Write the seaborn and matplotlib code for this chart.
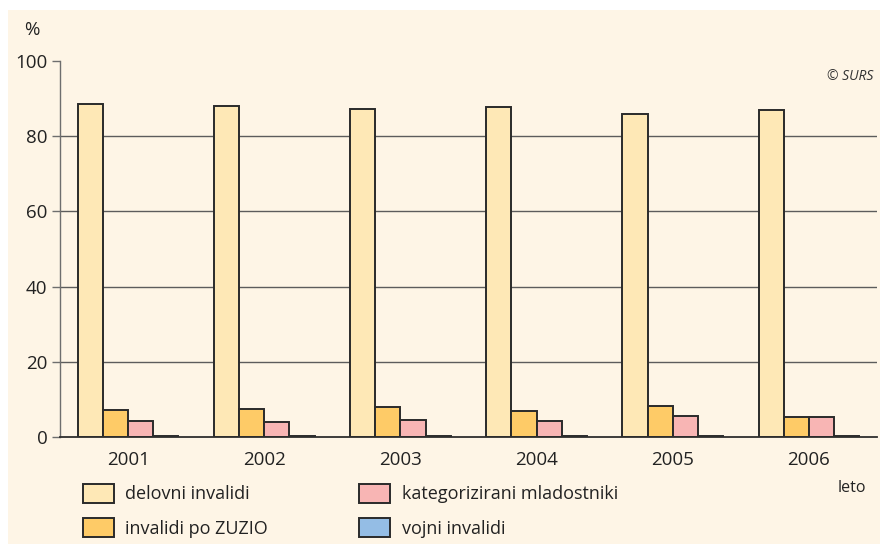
import matplotlib
matplotlib.use("Agg")
import matplotlib.pyplot as plt
import seaborn as sns
import pandas as pd
from matplotlib.patches import Rectangle

# Shares of disabled persons by category, per year (%)
leta = ["2001", "2002", "2003", "2004", "2005", "2006"]
kategorije = ["delovni invalidi", "invalidi po ZUZIO",
              "kategorizirani mladostniki", "vojni invalidi"]
delovni_invalidi = [88.5, 88.0, 87.2, 87.8, 85.9, 87.0]
invalidi_po_zuzio = [7.2, 7.5, 8.1, 7.0, 8.3, 5.4]
kategorizirani_mladostniki = [4.2, 3.9, 4.5, 4.3, 5.7, 5.4]
vojni_invalidi = [0.2, 0.2, 0.2, 0.2, 0.2, 0.2]
y_ticks = [0, 20, 40, 60, 80, 100]

barve = {
    "delovni invalidi": "#FEE8B6",
    "invalidi po ZUZIO": "#FECB67",
    "kategorizirani mladostniki": "#F8B5B4",
    "vojni invalidi": "#94BDE5",
}

vrednosti = [delovni_invalidi, invalidi_po_zuzio,
             kategorizirani_mladostniki, vojni_invalidi]
df = pd.DataFrame(
    [(leto, kat, vals[i]) for kat, vals in zip(kategorije, vrednosti)
     for i, leto in enumerate(leta)],
    columns=["leto", "kategorija", "delez"],
)

sns.set_theme(style="white")
plt.rcParams["font.family"] = ["Open Sans", "DejaVu Sans"]

W, H = 880, 544
fig = plt.figure(figsize=(W / 100, H / 100), dpi=100, facecolor="white")

# cream panel behind the chart
fig.patches.append(Rectangle((8 / W, 0), 1 - 8 / W, 1 - 10 / H,
                             transform=fig.transFigure, facecolor="#FEF5E6",
                             edgecolor="none", zorder=-5))

ax = fig.add_axes([60 / W, 1 - 437 / H, (877 - 60) / W, (437 - 61) / H])
ax.set_facecolor("none")
ax.set_zorder(1)

sns.barplot(data=df, x="leto", y="delez", hue="kategorija",
            hue_order=kategorije, order=leta, palette=barve, saturation=1,
            width=0.74, gap=0, edgecolor="#2a2a2a", linewidth=1.4,
            ax=ax, zorder=3)

ax.set_xlim(-0.5, 5.5)
ax.set_ylim(0, 100)
ax.set_yticks(y_ticks)
ax.set_yticklabels([str(t) for t in y_ticks])
ax.set_xlabel("")
ax.set_ylabel("")

for s in ["top", "right"]:
    ax.spines[s].set_visible(False)
ax.spines["left"].set_color("#6e6e6e")
ax.spines["left"].set_linewidth(1.0)
ax.spines["bottom"].set_color("#2e2e2e")
ax.spines["bottom"].set_linewidth(1.3)
ax.spines["bottom"].set_zorder(4)

ax.yaxis.grid(True, color="#5c5c5c", linewidth=1.0, zorder=1)
ax.set_axisbelow(True)
ax.get_ygridlines()[-1].set_visible(False)
ax.get_ygridlines()[0].set_visible(False)

ax.tick_params(axis="y", which="both", left=True, length=6, width=1.0,
               color="#6e6e6e", pad=3, labelsize=13.5, labelcolor="#222222")
ax.tick_params(axis="x", which="both", bottom=False, length=0, pad=10,
               labelsize=13.5, labelcolor="#222222")

# legend in two columns below the chart
handles, labels = ax.get_legend_handles_labels()
ax.legend_.remove()
leg = fig.legend(handles, labels, ncol=2, loc="upper left",
                 bbox_to_anchor=(83 / W, 1 - 484 / H),
                 frameon=False, fontsize=13, borderpad=0, borderaxespad=0,
                 handlelength=1.7, handleheight=1.2, handletextpad=0.65,
                 labelspacing=0.82, columnspacing=5.05)
for t in leg.get_texts():
    t.set_color("#222222")
for p in leg.get_patches():
    p.set_linewidth(1.4)
    p.set_edgecolor("#2a2a2a")

fig.text(32 / W, 1 - 30 / H, "%", fontsize=13.5, color="#222222",
         ha="center", va="center")
fig.text(873 / W, 1 - 77 / H, "© SURS", fontsize=10, style="italic",
         color="#333333", ha="right", va="center")
fig.text(838 / W, 1 - 488 / H, "leto", fontsize=11.5, color="#222222",
         ha="left", va="center")

fig.savefig("out.png", dpi=100, facecolor="white")
